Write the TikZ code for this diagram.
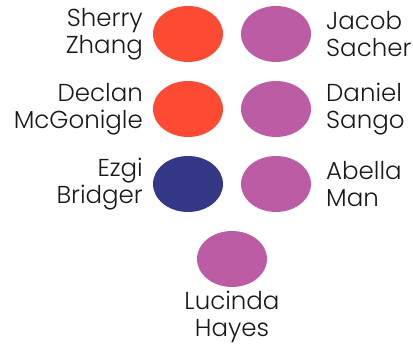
\documentclass[tikz,border=0pt]{standalone}
\usepackage{fontspec}
\setmainfont{Poppins}[UprightFont=* Light]
\usetikzlibrary{shapes.geometric}
\definecolor{redc}{HTML}{FD4A32}
\definecolor{purplec}{HTML}{BB5CA5}
\definecolor{bluec}{HTML}{343887}
\begin{document}
\begin{tikzpicture}[x=1pt,y=-1pt,
  dot/.style={ellipse,minimum width=70pt,minimum height=56pt,inner sep=0pt},
  lbl/.style={font=\fontsize{24.5}{26.5}\selectfont,inner sep=0pt,text=black!90}]
\useasboundingbox (0,0) rectangle (413,344);
% people
\node[dot,fill=redc]    (sherry)  at (188,34)  {};
\node[dot,fill=purplec] (jacob)   at (276,34)  {};
\node[dot,fill=redc]    (declan)  at (188,109) {};
\node[dot,fill=purplec] (daniel)  at (276,109) {};
\node[dot,fill=bluec]   (ezgi)    at (188,184) {};
\node[dot,fill=purplec] (abella)  at (276,184) {};
\node[dot,fill=purplec] (lucinda) at (232,259) {};
% names
\node[lbl,align=right,anchor=east] (tsherry) at (143,34)  {Sherry\\Zhang};
\node[lbl,align=left,anchor=west]  (tjacob)  at (326,34)  {Jacob\\Sacher};
\node[lbl,align=right,anchor=east] (tdeclan) at (143,109) {Declan\\McGonigle};
\node[lbl,align=left,anchor=west]  (tdaniel) at (326,109) {Daniel\\Sango};
\node[lbl,align=right,anchor=east] (tezgi)   at (143,184) {Ezgi\\Bridger};
\node[lbl,align=left,anchor=west]  (tabella) at (326,184) {Abella\\Man};
\node[lbl,align=center,anchor=north] (tlucinda) at (232,291) {Lucinda\\Hayes};
\end{tikzpicture}
\end{document}
